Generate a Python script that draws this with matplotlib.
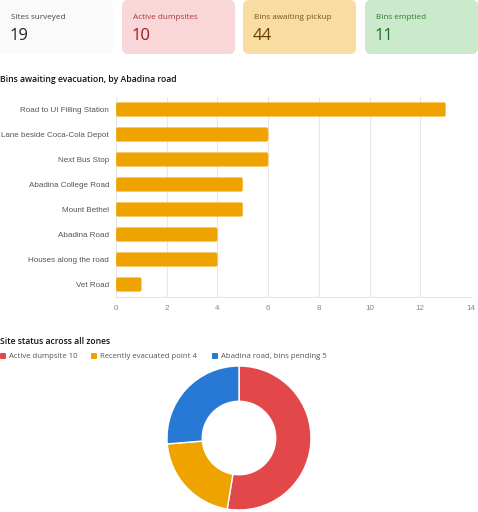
import numpy as np
import matplotlib
matplotlib.use("Agg")
import matplotlib.pyplot as plt
from matplotlib.patches import FancyBboxPatch

# summary cards
card_labels = ["Sites surveyed", "Active dumpsites", "Bins awaiting pickup", "Bins emptied"]
card_values = [19, 10, 44, 11]
card_bg = ["#fafafa", "#f9d6d7", "#f8dca2", "#cbeacb"]
card_fg = ["#222222", "#9b1c1c", "#6b3d00", "#1d6e1d"]
card_label_fg = ["#444444", "#a33a3a", "#7a5520", "#2f7a2f"]

# bar chart
roads = ["Road to UI Filling Station", "Lane beside Coca-Cola Depot", "Next Bus Stop",
         "Abadina College Road", "Mount Bethel", "Abadina Road",
         "Houses along the road", "Vet Road"]
bins_pending = [13, 6, 6, 5, 5, 4, 4, 1]

# donut
status_labels = ["Active dumpsite", "Recently evacuated point", "Abadina road, bins pending"]
status_counts = [10, 4, 5]
status_colors = ["#e2484a", "#efa300", "#2878d6"]

W, H = 478, 512
UI_FONT = ["Open Sans", "DejaVu Sans"]
BAR_COLOR = "#efa300"

fig = plt.figure(figsize=(W / 100, H / 100), dpi=100)

# full-figure axes in pixel coords for cards and headings
bg = fig.add_axes([0, 0, 1, 1])
bg.set_xlim(0, W)
bg.set_ylim(H, 0)
bg.axis("off")

card_x = [0, 122, 243, 365]
card_w = 113
for i in range(4):
    x0 = card_x[i]
    bg.add_patch(FancyBboxPatch((x0 + 3, 3), card_w - 6, 48,
                                boxstyle="round,pad=3,rounding_size=6",
                                fc=card_bg[i], ec="none"))
    bg.text(x0 + 11, 17.5, card_labels[i], fontsize=5.9, color=card_label_fg[i],
            family=UI_FONT, va="center", ha="left")
    bg.text(x0 + 10, 36.5, str(card_values[i]), fontsize=12, color=card_fg[i],
            family=UI_FONT, va="center", ha="left")

bg.text(0, 79, "Bins awaiting evacuation, by Abadina road", fontsize=6.2,
        fontweight="semibold", color="#111111", family=UI_FONT, va="center")
bg.text(0, 341, "Site status across all zones", fontsize=6.2,
        fontweight="semibold", color="#111111", family=UI_FONT, va="center")

# legend drawn by hand so it sits flush left like the original
leg_x = [0, 91, 212]
for i in range(3):
    bg.add_patch(FancyBboxPatch((leg_x[i] + 0.5, 353.5), 5, 5,
                                boxstyle="round,pad=0.5,rounding_size=1",
                                fc=status_colors[i], ec="none"))
    bg.text(leg_x[i] + 9.5, 356, f"{status_labels[i]} {status_counts[i]}",
            fontsize=5.6, color="#555555", family=UI_FONT, va="center")

# horizontal bar chart
ax = fig.add_axes([116 / W, 1 - 297 / H, (471 - 116) / W, 200 / H])
ypos = np.arange(len(roads))
bars = ax.barh(ypos, bins_pending, height=0.56, color="none")
for b in bars:
    ax.add_patch(FancyBboxPatch((b.get_x(), b.get_y()), b.get_width(), b.get_height(),
                                boxstyle="round,pad=0,rounding_size=0.08",
                                fc=BAR_COLOR, ec="#f5c560", lw=0.4, zorder=3))
ax.set_xlim(0, 14)
ax.set_ylim(len(roads) - 0.5, -0.5)
ax.set_xticks(range(0, 15, 2))
ax.set_yticks(ypos)
ax.set_yticklabels(roads, family=["Liberation Sans", "DejaVu Sans"], fontsize=5.8, color="#555555")
for lab in ax.get_xticklabels():
    lab.set_family(["Liberation Sans", "DejaVu Sans"])
ax.tick_params(axis="x", labelsize=5.8, labelcolor="#888888", length=0, pad=6)
ax.tick_params(axis="y", length=0, pad=5)
ax.grid(axis="x", color="#e6e6e6", lw=0.8, zorder=0)
ax.set_axisbelow(True)
for s in ["top", "right", "left"]:
    ax.spines[s].set_visible(False)
ax.spines["bottom"].set_color("#e6e6e6")
ax.spines["bottom"].set_linewidth(0.8)

# donut
r = 72
cx, cy = 239, 438
dax = fig.add_axes([(cx - r) / W, 1 - (cy + r) / H, 2 * r / W, 2 * r / H])
dax.pie(status_counts, colors=status_colors, startangle=90, counterclock=False,
        radius=1, wedgeprops=dict(width=0.49, edgecolor="white", linewidth=1))
dax.set_xlim(-1, 1)
dax.set_ylim(-1, 1)
dax.set_aspect("equal")
dax.axis("off")

fig.savefig("out.png", dpi=100)
